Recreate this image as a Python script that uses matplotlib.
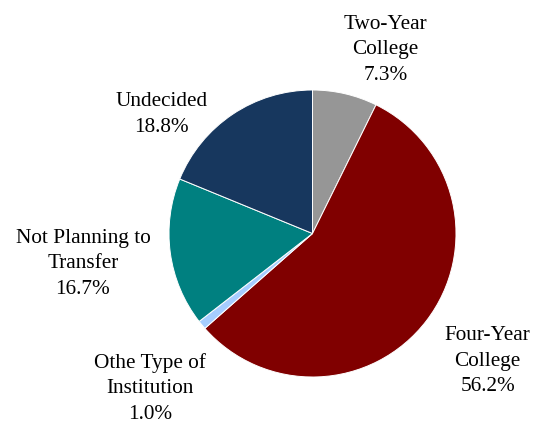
import numpy as np
import matplotlib.pyplot as plt

plt.rcParams['font.family'] = ['Liberation Serif', 'DejaVu Serif']

labels = ['Two-Year\nCollege', 'Four-Year\nCollege', 'Othe Type of\nInstitution',
          'Not Planning to\nTransfer', 'Undecided']
values = [7.3, 56.2, 1.0, 16.7, 18.8]
colors = ['#969696', '#800000', '#a6cdff', '#008080', '#17375e']

# label centres in pie-radius units
label_pos = [(0.51, 1.28), (1.22, -0.89), (-1.13, -1.08), (-1.60, -0.21), (-1.05, 0.83)]

W, H = 535, 423
cx, cy, r = 312.5, 233.5, 143.5
fig = plt.figure(figsize=(W / 100, H / 100), dpi=100)
ax = fig.add_axes([(cx - r) / W, (H - cy - r) / H, 2 * r / W, 2 * r / H])

ax.pie(values, colors=colors, startangle=90, counterclock=False,
       wedgeprops=dict(edgecolor='white', linewidth=0.7))
ax.set_xlim(-1, 1)
ax.set_ylim(-1, 1)
ax.set_aspect('equal')
ax.axis('off')

for lab, v, (x, y) in zip(labels, values, label_pos):
    ax.text(x, y, lab + '\n' + f'{v:.1f}%', ha='center', va='center',
            fontsize=15.3, linespacing=1.47, clip_on=False)

plt.savefig('out.png', dpi=100)
